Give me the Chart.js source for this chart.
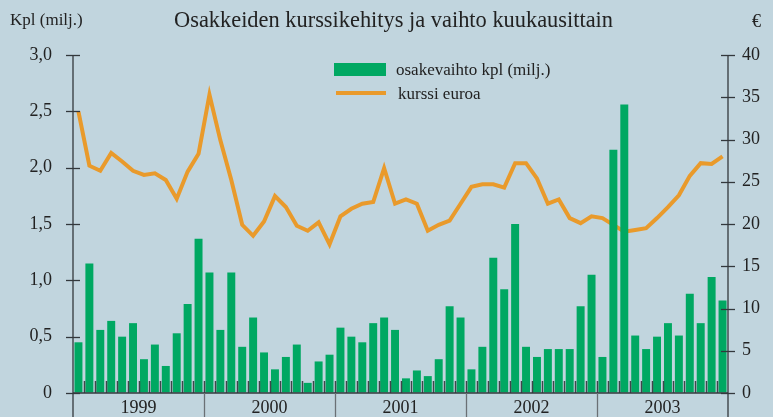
<!DOCTYPE html>
<html>
<head>
<meta charset="utf-8">
<script src="https://cdn.jsdelivr.net/npm/chart.js@4/dist/chart.umd.min.js"></script>
<style>
  html, body { margin: 0; padding: 0; background: #c1d5de; }
  #wrap { position: relative; width: 773px; height: 417px; overflow: hidden;
          font-family: "Liberation Serif", "DejaVu Serif", serif; color: #222; }
  #wrap canvas { position: absolute; left: 0; top: 0; }
  .txt { position: absolute; white-space: nowrap; line-height: 1; }
  .swatch { position: absolute; }
</style>
</head>
<body>
<div id="wrap">
  <canvas id="chart" width="773" height="417"></canvas>
  <div class="txt" style="left:10px; top:11px; font-size:17px;">Kpl (milj.)</div>
  <div class="txt" style="left:174px; top:9px; font-size:22.4px;">Osakkeiden kurssikehitys ja vaihto kuukausittain</div>
  <div class="txt" style="left:752px; top:12px; font-size:18px;">€</div>
  <div class="swatch" style="left:334px; top:63px; width:52px; height:13px; background:#00a862;"></div>
  <div class="txt" style="left:396px; top:61px; font-size:17px;">osakevaihto kpl (milj.)</div>
  <div class="swatch" style="left:336px; top:91px; width:50px; height:4px; background:#e99a2b;"></div>
  <div class="txt" style="left:398px; top:85px; font-size:17px;">kurssi euroa</div>
</div>
<script>
const years = ["1999", "2000", "2001", "2002", "2003"];
const monthsPerYear = 12;

// osakevaihto, milj. kpl
const volume = [
    0.45, 1.15, 0.56, 0.64, 0.50, 0.62, 0.30, 0.43, 0.24, 0.53, 0.79, 1.37,
    1.07, 0.56, 1.07, 0.41, 0.67, 0.36, 0.21, 0.32, 0.43, 0.09, 0.28, 0.34,
    0.58, 0.50, 0.45, 0.62, 0.67, 0.56, 0.13, 0.20, 0.15, 0.30, 0.77, 0.67,
    0.21, 0.41, 1.20, 0.92, 1.50, 0.41, 0.32, 0.39, 0.39, 0.39, 0.77, 1.05,
    0.32, 2.16, 2.56, 0.51, 0.39, 0.50, 0.62, 0.51, 0.88, 0.62, 1.03, 0.82,
];

// kurssi, euroa
const price = [
    33.3, 26.9, 26.3, 28.4, 27.4, 26.3, 25.8, 26.0, 25.2, 23.0, 26.2, 28.3,
    35.3, 29.9, 25.2, 19.9, 18.6, 20.3, 23.3, 22.0, 19.8, 19.2, 20.2, 17.6,
    20.9, 21.8, 22.4, 22.6, 26.6, 22.4, 22.9, 22.4, 19.2, 19.9, 20.4, 22.4,
    24.4, 24.7, 24.7, 24.3, 27.2, 27.2, 25.4, 22.4, 22.9, 20.7, 20.1, 20.9,
    20.7, 19.9, 19.1, 19.3, 19.5, 20.7, 22.0, 23.4, 25.7, 27.2, 27.1, 28.0,
];

const monthLabels = [];
years.forEach((y) => {
    for (let m = 1; m <= monthsPerYear; m++) monthLabels.push(y + "-" + m);
});

const axisColor = "#33383c";

const decor = {
    id: "decor",
    afterDatasetsDraw(chart) {
        const { ctx, chartArea: a, scales } = chart;
        const x = scales.x;
        const step = x.getPixelForValue(1) - x.getPixelForValue(0);
        ctx.save();

        // month ticks just above baseline
        ctx.strokeStyle = "#3f464b";
        ctx.lineWidth = 1.5;
        for (let i = 1; i < monthLabels.length; i++) {
            const px = Math.round(x.getPixelForValue(i) - step / 2) + 0.5;
            ctx.beginPath();
            ctx.moveTo(px, a.bottom - 12);
            ctx.lineTo(px, a.bottom);
            ctx.stroke();
        }

        ctx.strokeStyle = axisColor;
        ctx.lineWidth = 1.3;
        // baseline
        ctx.beginPath();
        ctx.moveTo(a.left, a.bottom);
        ctx.lineTo(a.right, a.bottom);
        ctx.stroke();

        // axis lines running to the bottom edge
        [a.left, a.right].forEach((px) => {
            ctx.beginPath();
            ctx.moveTo(px, a.top);
            ctx.lineTo(px, chart.height);
            ctx.stroke();
        });

        // year separators
        ctx.strokeStyle = "#6a7075";
        for (let k = 1; k < years.length; k++) {
            const px = Math.round(x.getPixelForValue(k * monthsPerYear) - step / 2) + 0.5;
            ctx.beginPath();
            ctx.moveTo(px, a.bottom);
            ctx.lineTo(px, chart.height);
            ctx.stroke();
        }

        // y tick crosses
        ctx.strokeStyle = axisColor;
        scales.y.ticks.forEach((t) => {
            const py = Math.round(scales.y.getPixelForValue(t.value)) + 0.5;
            ctx.beginPath();
            ctx.moveTo(a.left - 7, py);
            ctx.lineTo(a.left + 7, py);
            ctx.stroke();
        });
        scales.y1.ticks.forEach((t) => {
            const py = Math.round(scales.y1.getPixelForValue(t.value)) + 0.5;
            ctx.beginPath();
            ctx.moveTo(a.right - 7, py);
            ctx.lineTo(a.right + 7, py);
            ctx.stroke();
        });
        ctx.restore();
    },
};

const tickFont = { family: "'Liberation Serif', 'DejaVu Serif', serif", size: 18 };

new Chart(document.getElementById("chart"), {
    data: {
        labels: monthLabels,
        datasets: [
            {
                type: "bar",
                label: "osakevaihto kpl (milj.)",
                data: volume,
                backgroundColor: "#00a862",
                barPercentage: 0.73,
                categoryPercentage: 1,
                yAxisID: "y",
                order: 0,
            },
            {
                type: "line",
                label: "kurssi euroa",
                data: price,
                borderColor: "#e99a2b",
                borderWidth: 4,
                pointRadius: 0,
                tension: 0,
                yAxisID: "y1",
                order: 1,
            },
        ],
    },
    options: {
        responsive: false,
        animation: false,
        layout: { padding: { top: 55, left: 0, right: 0, bottom: 0 } },
        plugins: {
            legend: { display: false },
            title: { display: false },
            tooltip: { enabled: false },
        },
        scales: {
            x: {
                display: false,
                offset: true,
            },
            x2: {
                type: "category",
                labels: years,
                position: "bottom",
                offset: true,
                grid: { display: false, drawTicks: false },
                border: { display: false },
                ticks: { color: "#222", font: tickFont, padding: 4, maxRotation: 0 },
                afterFit: (s) => { s.height = 24; },
            },
            y: {
                position: "left",
                min: 0,
                max: 3,
                ticks: {
                    stepSize: 0.5,
                    color: "#222",
                    font: tickFont,
                    padding: 3,
                    callback: (v) => (v === 0 ? "0" : v.toFixed(1).replace(".", ",")),
                },
                grid: { drawOnChartArea: false, drawTicks: true, tickLength: 18, color: "transparent" },
                border: { display: false },
                afterFit: (s) => { s.width = 73; },
            },
            y1: {
                position: "right",
                min: 0,
                max: 40,
                ticks: { stepSize: 5, color: "#222", font: tickFont, padding: 3 },
                grid: { drawOnChartArea: false, drawTicks: true, tickLength: 11, color: "transparent" },
                border: { display: false },
                afterFit: (s) => { s.width = 45; },
            },
        },
    },
    plugins: [decor],
});
</script>
</body>
</html>
